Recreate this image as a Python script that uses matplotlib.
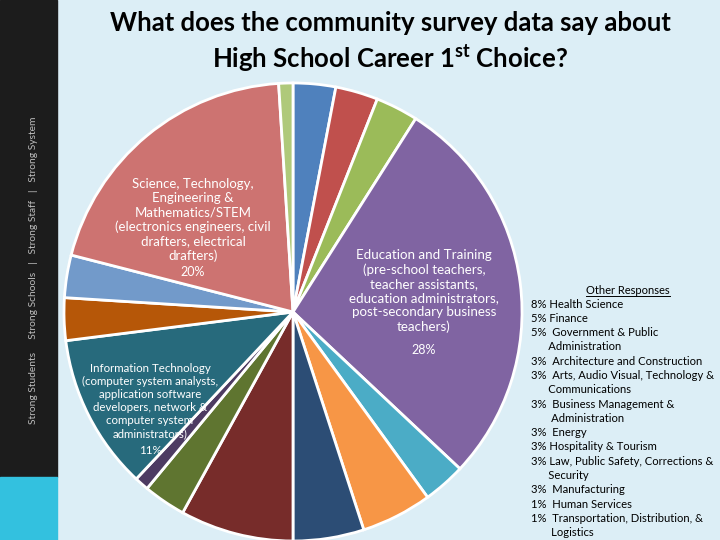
import matplotlib.pyplot as plt
from matplotlib.patches import Rectangle

# datos del grafico (en orden horario desde arriba)
categorias = ['Architecture and Construction', 'Arts, Audio Visual, Technology & Communications',
              'Business Management & Administration', 'Education and Training',
              'Energy', 'Finance', 'Government & Public Administration', 'Health Science',
              'Hospitality & Tourism', 'Human Services', 'Information Technology',
              'Law, Public Safety, Corrections & Security', 'Manufacturing', 'STEM',
              'Transportation, Distribution, & Logistics']
valores = [3, 3, 3, 28, 3, 5, 5, 8, 3, 1, 11, 3, 3, 20, 1]
colores = ['#4F81BD', '#C0504D', '#9BBB59', '#8064A2', '#4BACC6', '#F79646', '#2C4D75',
           '#772C2A', '#5F7530', '#4D3B62', '#276A7C', '#B65708', '#729ACA', '#CD7371', '#AFC97A']

otras_respuestas = ['8% Health Science', '5% Finance', '5%  Government & Public',
                    '      Administration', '3%  Architecture and Construction',
                    '3%  Arts, Audio Visual, Technology &', '      Communications',
                    '3%  Business Management &', '       Administration', '3%  Energy',
                    '3% Hospitality & Tourism', '3% Law, Public Safety, Corrections &',
                    '      Security', '3%  Manufacturing', '1%  Human Services',
                    '1%  Transportation, Distribution, &', '       Logistics']

plt.rcParams['font.family'] = ['Lato', 'DejaVu Sans']
plt.rcParams['mathtext.fontset'] = 'custom'
plt.rcParams['mathtext.rm'] = 'Lato'
plt.rcParams['mathtext.bf'] = 'Lato:bold'

fig = plt.figure(figsize=(7.2, 5.4), dpi=100)
fig.patch.set_facecolor('#DCEEF6')
ax = fig.add_axes([0, 0, 1, 1])

# grafico de torta
explotar = [0.015] * len(valores)
ax.pie(valores, colors=colores, startangle=90, counterclock=False,
       center=(293, 228), radius=229, explode=explotar,
       wedgeprops=dict(edgecolor='white', linewidth=2), frame=True)
ax.set_xlim(0, 720)
ax.set_ylim(0, 540)
ax.set_aspect('equal')
ax.axis('off')

# barra lateral
ax.add_patch(Rectangle((0, 63), 57, 477, color='#1C1C1C', zorder=0))
ax.add_patch(Rectangle((0, 0), 57, 63, color='#33C1DF', zorder=0))
ax.text(34, 540 - 270, 'Strong Students     Strong Schools   |   Strong Staff   |   Strong System',
        rotation=90, ha='center', va='center', color='#BDBDBD', fontsize=7.4)

# etiquetas dentro de la torta
ax.text(193, 540 - 220, 'Science, Technology,\nEngineering &\nMathematics/STEM\n(electronics engineers, civil\ndrafters, electrical\ndrafters)',
        ha='center', va='center', color='white', fontsize=9.5, linespacing=1.22)
ax.text(193, 540 - 272, '20%', ha='center', va='center', color='white', fontsize=9)
ax.text(424, 540 - 291, 'Education and Training\n(pre-school teachers,\nteacher assistants,\neducation administrators,\npost-secondary business\nteachers)',
        ha='center', va='center', color='white', fontsize=9.6, linespacing=1.22)
ax.text(424, 540 - 350, '28%', ha='center', va='center', color='white', fontsize=9)
ax.text(150, 540 - 401, 'Information Technology\n(computer system analysts,\napplication software\ndevelopers, network &\ncomputer system\nadministrators)',
        ha='center', va='center', color='white', fontsize=8.3, linespacing=1.22)
ax.text(150, 540 - 451, '11%', ha='center', va='center', color='white', fontsize=8.3)

# titulo
ax.text(390, 540 - 23, 'What does the community survey data say about',
        ha='center', va='center', fontsize=18.5, fontweight='bold', color='black')
ax.text(390, 540 - 58, r'High School Career 1$^{\mathbf{st}}$ Choice?',
        ha='center', va='center', fontsize=18.5, fontweight='bold', color='black')

# otras respuestas
ax.text(628, 540 - 290, 'Other Responses', ha='center', va='center', fontsize=8)
ax.plot([586, 670], [540 - 296, 540 - 296], color='black', linewidth=0.7)
for i, linea in enumerate(otras_respuestas):
    ax.text(531, 540 - 304 - i * 14.3, linea, ha='left', va='center', fontsize=8.1)

fig.savefig('out.png', dpi=100, facecolor=fig.get_facecolor())
